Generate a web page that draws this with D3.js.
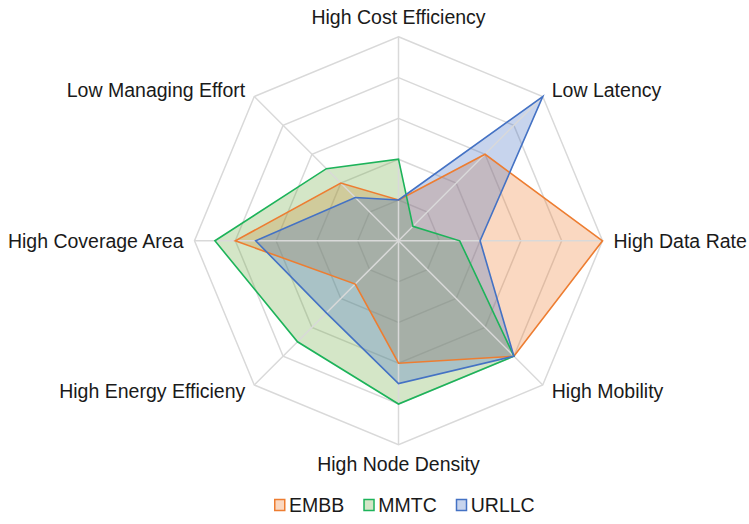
<!DOCTYPE html>
<html>
<head>
<meta charset="utf-8">
<script src="https://cdn.jsdelivr.net/npm/d3@7"></script>
<style>
  html, body { margin: 0; padding: 0; background: #fff; }
  svg text { font-family: "Liberation Sans", Arial, sans-serif; }
</style>
</head>
<body>
<svg id="chart" width="749" height="524"></svg>
<script>
// Radar axes, clockwise from the top
const categories = [
  "High Cost Efficiency",
  "Low Latency",
  "High Data Rate",
  "High Mobility",
  "High Node Density",
  "High Energy Efficieny",
  "High Coverage Area",
  "Low Managing Effort"
];

// Scores per use case (0–5)
const embb  = [1, 3, 5, 4, 3, 1.5, 4, 2];
const mmtc  = [2, 0.5, 1.5, 4, 4, 3.5, 4.5, 2.5];
const urllc = [1, 5, 2, 4, 3.5, 2.5, 3.5, 1.5];

const seriesNames = ["EMBB", "MMTC", "URLLC"];
const ringLevels = [1, 2, 3, 4, 5];

const lineColors = ["#ED7D31", "#1DB35A", "#4472C4"];
const fillColors = ["#ED7D31", "#70AD47", "#4472C4"];

const series = [embb, mmtc, urllc].map((values, i) => ({
  name: seriesNames[i], values, stroke: lineColors[i], fill: fillColors[i]
}));

const svg = d3.select("#chart");
const cx = 398.5, cy = 240.8, R = 204;

const r = d3.scaleLinear().domain([0, 5]).range([0, R]);
const angle = d3.scalePoint()
  .domain(categories)
  .range([0, 2 * Math.PI * (categories.length - 1) / categories.length]);

const g = svg.append("g").attr("transform", `translate(${cx},${cy})`);

const radial = d3.lineRadial()
  .angle((d, i) => angle(categories[i]))
  .radius(d => r(d))
  .curve(d3.curveLinearClosed);

const grid = "#d9d9d9";

// Octagonal rings
g.append("g").selectAll("path")
  .data(ringLevels)
  .join("path")
  .attr("d", lv => radial(categories.map(() => lv)))
  .attr("fill", "none")
  .attr("stroke", grid)
  .attr("stroke-width", 1.5);

// Filled areas
g.append("g").selectAll("path")
  .data(series)
  .join("path")
  .attr("d", s => radial(s.values))
  .attr("fill", s => s.fill)
  .attr("fill-opacity", 0.3)
  .attr("stroke", "none");

// Spokes
g.append("g").selectAll("line")
  .data(categories)
  .join("line")
  .attr("x1", 0).attr("y1", 0)
  .attr("x2", c => r(5) * Math.sin(angle(c)))
  .attr("y2", c => -r(5) * Math.cos(angle(c)))
  .attr("stroke", grid)
  .attr("stroke-width", 1.5);

// Series outlines
g.append("g").selectAll("path")
  .data(series)
  .join("path")
  .attr("d", s => radial(s.values))
  .attr("fill", "none")
  .attr("stroke", s => s.stroke)
  .attr("stroke-width", 1.6)
  .attr("stroke-linejoin", "miter");

// Axis labels
const eps = 1e-6;
g.append("g").selectAll("text")
  .data(categories)
  .join("text")
  .each(function (c) {
    const a = angle(c);
    const s = Math.abs(Math.sin(a)) < eps ? 0 : Math.sign(Math.sin(a));
    const k = Math.abs(Math.cos(a)) < eps ? 0 : Math.sign(Math.cos(a));
    let x = r(5) * Math.sin(a), y = -r(5) * Math.cos(a);
    if (s === 0) { y -= 19.5 * k; }
    else if (k === 0) { x += 11 * s; }
    else { x += 9 * s; y -= 6 * k; }
    d3.select(this)
      .attr("x", x).attr("y", y)
      .attr("dy", "0.35em")
      .attr("text-anchor", s === 0 ? "middle" : (s > 0 ? "start" : "end"));
  })
  .attr("font-size", 19.5)
  .attr("fill", "#1a1a1a")
  .text(c => c);

// Legend
const legend = svg.append("g").attr("transform", "translate(274,505)");
let lx = 0;
series.forEach(s => {
  const item = legend.append("g").attr("transform", `translate(${lx},0)`);
  item.append("rect")
    .attr("x", 0.75).attr("y", -5.5)
    .attr("width", 10).attr("height", 11)
    .attr("fill", s.fill).attr("fill-opacity", 0.3)
    .attr("stroke", s.stroke).attr("stroke-width", 1.5);
  const t = item.append("text")
    .attr("x", 15).attr("y", 0).attr("dy", "0.35em")
    .attr("font-size", 19.5)
    .attr("fill", "#1a1a1a")
    .text(s.name);
  lx += 15 + t.node().getComputedTextLength() + 19;
});
</script>
</body>
</html>
